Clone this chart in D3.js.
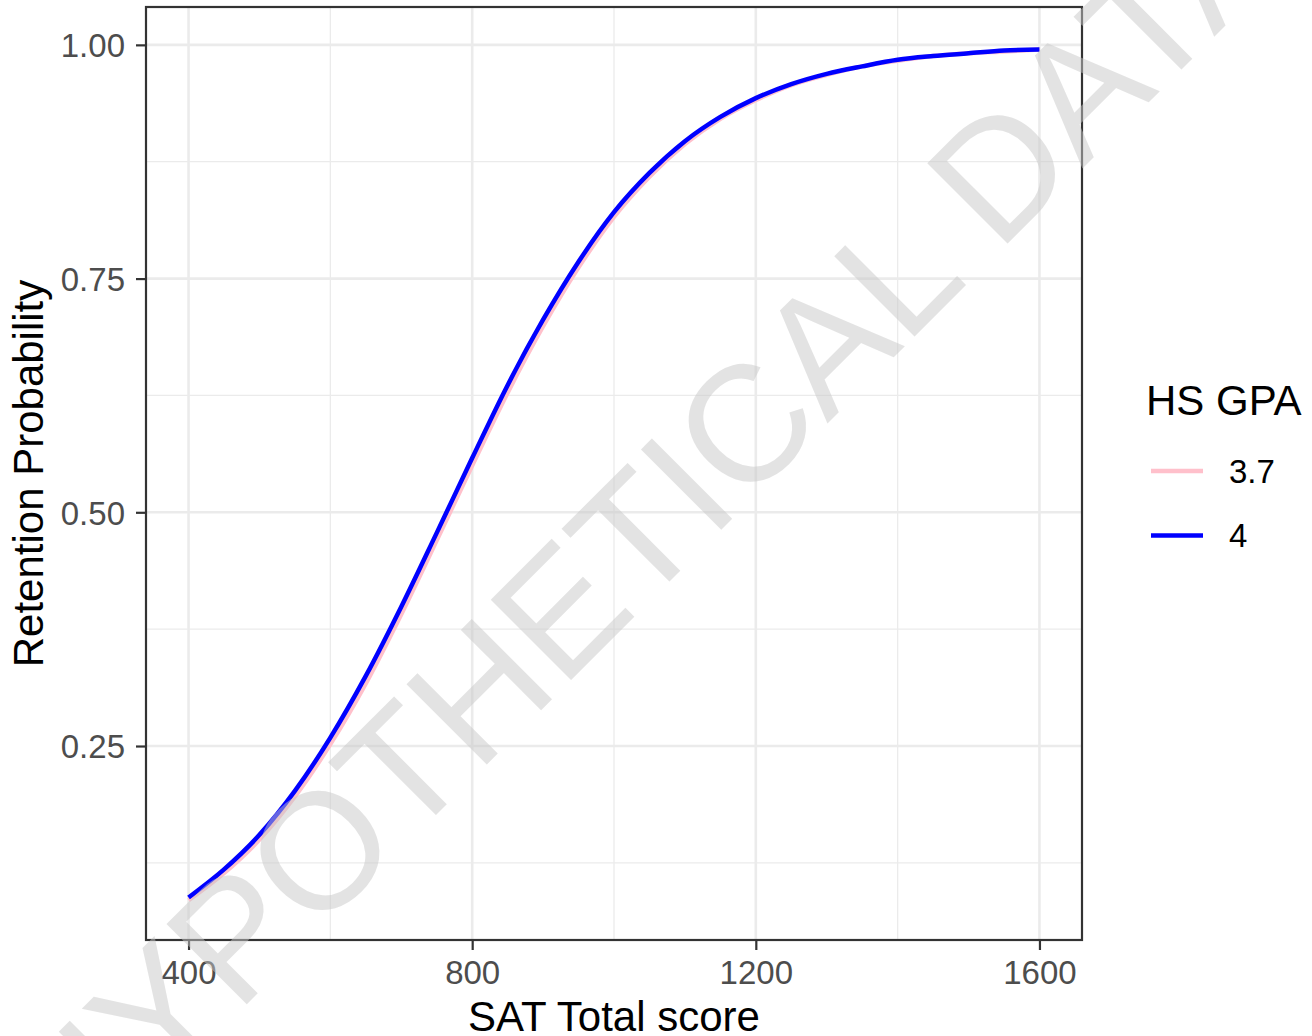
<!DOCTYPE html>
<html><head><meta charset="utf-8">
<script src="https://cdn.jsdelivr.net/npm/d3@7"></script>
<style>body{margin:0;background:#fff}svg{display:block;font-family:"Liberation Sans",Arial,sans-serif}</style>
</head><body><svg id="c" width="1312" height="1036"></svg>
<script>
const sat = [400,450,500,550,600,650,700,750,800,850,900,950,1000,1050,1100,1150,1200,1250,1300,1350,1400,1450,1500,1550,1600];
const gpa40 = [0.088,0.118,0.155,0.202,0.259,0.325,0.399,0.478,0.558,0.636,0.706,0.768,0.821,0.863,0.897,0.923,0.943,0.958,0.969,0.977,0.984,0.988,0.991,0.994,0.995];
const gpa37 = [0.085,0.114,0.150,0.196,0.252,0.317,0.391,0.470,0.550,0.628,0.699,0.762,0.816,0.859,0.894,0.921,0.941,0.957,0.968,0.977,0.983,0.988,0.991,0.993,0.995];
const seriesNames = ["3.7","4"];
const seriesColors = ["#FFC0CB","#0000FF"];
const xTicks = [400,800,1200,1600];
const xMinor = [600,1000,1400];
const yTicks = [0.25,0.50,0.75,1.00];
const yMinor = [0.125,0.375,0.625,0.875];

const svg = d3.select("#c");
const L=146,R=1082,T=7,B=940;
const x = d3.scaleLinear().domain([340,1660]).range([L,R]);
const y = d3.scaleLinear().domain([0.0425,1.0405]).range([B,T]);

svg.append("rect").attr("width",1312).attr("height",1036).attr("fill","#fff");
const g = svg.append("g");
g.selectAll(".xm").data(xMinor).join("line").attr("x1",d=>x(d)).attr("x2",d=>x(d)).attr("y1",T).attr("y2",B).attr("stroke","#ebebeb").attr("stroke-width",1.3);
g.selectAll(".ym").data(yMinor).join("line").attr("y1",d=>y(d)).attr("y2",d=>y(d)).attr("x1",L).attr("x2",R).attr("stroke","#ebebeb").attr("stroke-width",1.3);
g.selectAll(".xM").data(xTicks).join("line").attr("x1",d=>x(d)).attr("x2",d=>x(d)).attr("y1",T).attr("y2",B).attr("stroke","#ebebeb").attr("stroke-width",2.6);
g.selectAll(".yM").data(yTicks).join("line").attr("y1",d=>y(d)).attr("y2",d=>y(d)).attr("x1",L).attr("x2",R).attr("stroke","#ebebeb").attr("stroke-width",2.6);

const line = d3.line().x(d=>x(d[0])).y(d=>y(d[1])).curve(d3.curveMonotoneX);
[gpa37,gpa40].forEach((vals,i)=>{
  g.append("path").datum(sat.map((s,j)=>[s,vals[j]])).attr("d",line)
   .attr("fill","none").attr("stroke",seriesColors[i]).attr("stroke-width",4.5);
});

svg.append("rect").attr("x",L).attr("y",T).attr("width",R-L).attr("height",B-T).attr("fill","none").attr("stroke","#333").attr("stroke-width",2.2);

const xAxis = svg.append("g").attr("transform",`translate(0,${B})`)
  .call(d3.axisBottom(x).tickValues(xTicks).tickSize(10).tickPadding(10).tickFormat(d3.format("d")));
const yAxis = svg.append("g").attr("transform",`translate(${L},0)`)
  .call(d3.axisLeft(y).tickValues(yTicks).tickSize(10).tickPadding(11).tickFormat(d3.format(".2f")));
[xAxis,yAxis].forEach(a=>{
  a.select(".domain").remove();
  a.selectAll(".tick line").attr("stroke","#333").attr("stroke-width",2.2);
  a.selectAll(".tick text").attr("fill","#4d4d4d").attr("font-size",33).attr("font-family","Liberation Sans, Arial, sans-serif");
});
xAxis.selectAll(".tick text").attr("dy","0.72em");
yAxis.selectAll(".tick text").attr("dy","0.36em");

svg.append("text").attr("x",(L+R)/2).attr("y",1031).attr("text-anchor","middle").attr("font-size",42).attr("fill","#000").text("SAT Total score");
svg.append("text").attr("transform",`translate(43,${(T+B)/2}) rotate(-90)`).attr("text-anchor","middle").attr("font-size",42).attr("fill","#000").text("Retention Probability");

const lg = svg.append("g");
lg.append("text").attr("x",1146).attr("y",415).attr("font-size",42).attr("fill","#000").text("HS GPA");
seriesNames.forEach((n,i)=>{
  const yy = 471 + i*64.5;
  lg.append("line").attr("x1",1151).attr("x2",1203).attr("y1",yy).attr("y2",yy).attr("stroke",seriesColors[i]).attr("stroke-width",4.5);
  lg.append("text").attr("x",1229).attr("y",yy).attr("dy","0.36em").attr("font-size",33).attr("fill","#000").text(n);
});

svg.append("text").attr("transform","translate(645,529) rotate(-45)")
  .attr("text-anchor","middle").attr("dy","0.33em").attr("font-size",165)
  .attr("fill","rgb(200,200,200)").attr("fill-opacity",0.5)
  .text("HYPOTHETICAL DATA");
</script></body></html>
